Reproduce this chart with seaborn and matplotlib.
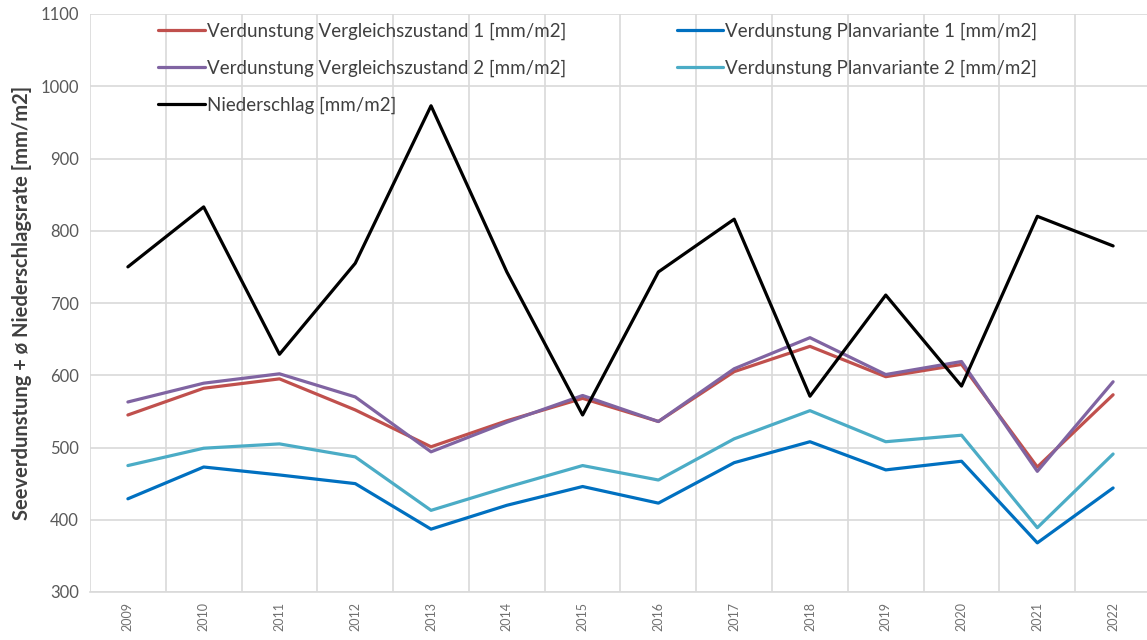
import matplotlib
matplotlib.use("Agg")
import matplotlib.pyplot as plt
import seaborn as sns
import pandas as pd

years = [str(y) for y in range(2009, 2023)]

vergleich_1 = [545, 582, 595, 552, 501, 537, 568, 536, 605, 640, 598, 615, 473, 573]
plan_1 = [429, 473, 462, 450, 387, 420, 446, 423, 479, 508, 469, 481, 368, 444]
vergleich_2 = [563, 589, 602, 570, 494, 535, 572, 536, 609, 652, 601, 619, 467, 591]
plan_2 = [475, 499, 505, 487, 413, 445, 475, 455, 512, 551, 508, 517, 389, 491]
niederschlag = [750, 833, 629, 755, 973, 743, 545, 743, 816, 571, 711, 585, 820, 779]

series_names = [
    "Verdunstung Vergleichszustand 1 [mm/m2]",
    "Verdunstung Planvariante 1 [mm/m2]",
    "Verdunstung Vergleichszustand 2 [mm/m2]",
    "Verdunstung Planvariante 2 [mm/m2]",
    "Niederschlag [mm/m2]",
]
series_values = [vergleich_1, plan_1, vergleich_2, plan_2, niederschlag]
series_colors = ["#C0504D", "#0070C0", "#8064A2", "#4BACC6", "#000000"]

rows = []
for name, vals in zip(series_names, series_values):
    for i, (yr, v) in enumerate(zip(years, vals)):
        rows.append({"idx": i, "Jahr": yr, "Wert": v, "Reihe": name})
df = pd.DataFrame(rows)

sns.set_style("white")
plt.rcParams["font.family"] = ["Lato", "DejaVu Sans"]

fig = plt.figure(figsize=(11.47, 6.40), dpi=100)
ax = fig.add_axes([90 / 1147, 1 - 592 / 640, 1061 / 1147, (592 - 14) / 640])

sns.lineplot(
    data=df, x="idx", y="Wert", hue="Reihe", hue_order=series_names,
    palette=dict(zip(series_names, series_colors)), linewidth=2.3,
    ax=ax, legend=False, sort=False,
)

grid_c = "#D9D9D9"
ax.set_xlim(-0.5, len(years) - 0.5)
ax.set_ylim(300, 1100)
ax.set_yticks(range(300, 1101, 100))
ax.set_xticks(range(len(years)))
ax.set_xticklabels(years, rotation=90, fontsize=9, color="#707070")
ax.tick_params(axis="y", labelsize=12, colors="#595959", length=0, pad=8)
ax.tick_params(axis="x", length=0, pad=7)

# horizontal grid at major ticks, vertical grid between categories
ax.yaxis.grid(True, color=grid_c, linewidth=1.2)
for b in [i + 0.5 for i in range(-1, len(years))]:
    ax.axvline(b, color=grid_c, linewidth=1.2, zorder=0)
ax.set_axisbelow(True)
for side in ["top", "right", "left"]:
    ax.spines[side].set_visible(False)
ax.spines["bottom"].set_color(grid_c)
ax.spines["bottom"].set_linewidth(1.2)

ax.set_xlabel("")
ax.set_ylabel("Seeverdunstung + ø Niederschlagsrate [mm/m2]", fontsize=14.5,
              fontweight="bold", color="#404040", labelpad=6)

handles = ax.get_lines()[:5]
order = [0, 2, 4, 1, 3]
leg = ax.legend(
    [handles[i] for i in order], [series_names[i] for i in order],
    ncol=2, loc="upper left", bbox_to_anchor=(0.048, 1.015), frameon=False,
    fontsize=13.5, handlelength=2.5, handletextpad=0.1, columnspacing=5.9,
    labelspacing=1.05, labelcolor="#404040",
)
for line in leg.get_lines():
    line.set_linewidth(2.3)

fig.savefig("out.png", dpi=100)
